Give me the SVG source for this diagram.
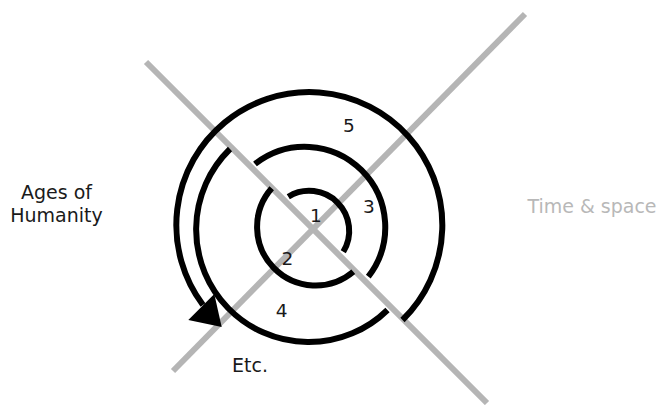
<svg xmlns="http://www.w3.org/2000/svg" width="664" height="405" viewBox="0 0 664 405">
<style>
.axis{stroke:#b5b5b5;stroke-width:6;fill:none}
.ring{stroke:#000;stroke-width:6;fill:none}
.lbl{font-family:"DejaVu Sans","Open Sans",sans-serif;font-size:19px;fill:#1a1a1a;text-anchor:middle}
.num{font-family:"DejaVu Sans","Open Sans",sans-serif;font-size:18.5px;fill:#1a1a1a;text-anchor:middle}
.grey{fill:#b8b8b8}
</style>
<rect width="664" height="405" fill="#fff"/>
<g id="axes">
<line class="axis" x1="146" y1="62" x2="487" y2="403"/>
<line class="axis" x1="173" y1="371" x2="525" y2="14"/>
</g>
<g id="spiral">
<path class="ring" d="M288.3,196.7 A40 40 0 0 1 343.3,251.7"/>
<path class="ring" d="M271.7,188.3 A58.5 58.5 0 0 0 353.3,271.7"/>
<path class="ring" d="M368.3,276.7 A80.5 80.5 0 0 0 255,164"/>
<path class="ring" d="M230,149 A112.5 112.5 0 0 0 387.5,310"/>
<path class="ring" d="M402.5,320 A133 133 0 1 0 203,305"/>
<polygon points="188.3,320 214.3,294 221.7,327" fill="#000"/>
</g>
<g id="label-ages">
<text class="lbl" x="56.5" y="199.2">Ages of<tspan x="56.5" dy="22.6">Humanity</tspan></text>
</g>
<g id="label-time"><text class="lbl grey" x="592" y="213.3">Time &amp; space</text></g>
<g id="label-etc"><text class="lbl" x="250" y="372.3">Etc.</text></g>
<g id="n1"><text class="num" x="316" y="221.7">1</text></g>
<g id="n2"><text class="num" x="287.5" y="265">2</text></g>
<g id="n3"><text class="num" x="369" y="213.3">3</text></g>
<g id="n4"><text class="num" x="281.7" y="316.7">4</text></g>
<g id="n5"><text class="num" x="349" y="131.7">5</text></g>
</svg>
